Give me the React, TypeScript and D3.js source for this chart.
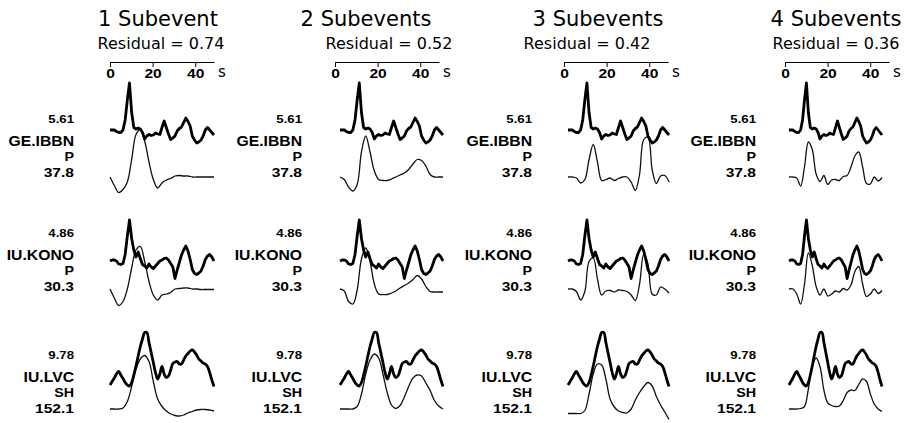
import React, { useRef, useEffect } from 'react'
import * as d3 from 'd3'

// column headers
const subevents = ['1 Subevent', '2 Subevents', '3 Subevents', '4 Subevents']
const residuals = [0.74, 0.52, 0.42, 0.36]
const axisTicks = [0, 20, 40]

// station rows
const amplitudes = ['5.61', '4.86', '9.78']
const stations = ['GE.IBBN', 'IU.KONO', 'IU.LVC']
const phases = ['P', 'P', 'SH']
const azimuths = ['37.8', '30.3', '152.1']

// sample times (s)
const obsTimes = [0, 1, 2, 3, 4, 5, 6, 7, 8, 9, 10, 11, 12, 13, 14, 15, 16, 17, 18, 19, 20, 21, 22, 23, 24, 25, 26, 27, 28, 29, 30, 31, 32, 33, 34, 35, 36, 37, 38, 39, 40, 41, 42, 43, 44, 45, 46, 47, 48]
const synTimes = [0, 2, 4, 6, 8, 10, 12, 14, 16, 18, 20, 22, 24, 26, 28, 30, 32, 34, 36, 38, 40, 42, 44, 46, 48]

// observed waveforms (same in every column)
const obsIBBN = [0, 0, 0, -0.03, -0.05, -0.05, 0, 0.2, 0.6, 0.94, 0.35, 0.05, 0.02, 0.04, 0.02, -0.05, -0.18, -0.12, -0.09, -0.11, -0.1, -0.06, -0.08, -0.09, 0.05, 0.18, 0.05, -0.08, -0.19, -0.16, -0.12, -0.02, 0.03, 0.06, 0.15, 0.24, 0.17, 0.08, -0.12, -0.2, -0.26, -0.24, -0.2, -0.12, 0, 0.05, 0, -0.05, -0.1]
const obsKONO = [0, 0.02, 0.02, 0, -0.06, -0.07, -0.05, 0.13, 0.5, 0.82, 0.45, 0.22, 0.08, 0.18, 0.05, -0.07, -0.1, -0.14, -0.06, -0.12, -0.15, -0.1, -0.05, 0, 0.02, 0.05, 0.06, 0.02, -0.05, -0.12, -0.35, -0.18, -0.03, 0.12, 0.22, 0.3, 0.2, 0.03, -0.17, -0.25, -0.27, -0.24, -0.2, -0.1, 0.03, 0.1, 0.13, 0.08, 0]
const obsLVC = [0, 0.07, 0.14, 0.22, 0.27, 0.2, 0.13, 0.05, 0, -0.02, 0.05, 0.2, 0.38, 0.58, 0.77, 0.92, 1.05, 1.05, 0.85, 0.65, 0.45, 0.25, 0.12, 0.22, 0.37, 0.22, 0.15, 0.18, 0.3, 0.43, 0.46, 0.47, 0.42, 0.42, 0.5, 0.58, 0.63, 0.68, 0.7, 0.66, 0.6, 0.52, 0.48, 0.44, 0.42, 0.37, 0.25, 0.1, -0.03]

// synthetic waveforms, one per subevent model
const synIBBN1 = [0, -0.17, -0.31, -0.25, -0.1, 0.35, 0.85, 0.95, 0.72, 0.3, -0.05, -0.22, -0.12, -0.06, -0.03, 0.02, 0.03, 0.02, 0.02, 0, 0, 0, 0, 0, 0]
const synIBBN2 = [0, -0.05, -0.2, -0.28, -0.15, 0.5, 0.82, 0.5, 0.12, -0.05, -0.07, -0.07, -0.04, 0, 0.04, 0.08, 0.15, 0.26, 0.35, 0.33, 0.22, 0.05, 0, 0, 0]
const synIBBN3 = [0, 0, -0.02, -0.12, -0.05, 0.35, 0.65, 0.3, -0.07, -0.05, -0.02, -0.07, -0.03, 0, 0, -0.1, -0.27, 0.05, 0.75, 0.8, 0.15, -0.13, 0.02, 0.03, -0.1]
const synIBBN4 = [0, 0, -0.02, -0.18, 0.2, 0.7, 0.55, 0.06, -0.09, 0.03, -0.15, -0.06, -0.05, -0.07, 0.01, 0.03, 0.2, 0.42, 0.5, 0.2, -0.13, -0.14, 0, -0.08, -0.01]

const synKONO1 = [0, -0.18, -0.33, -0.25, 0, 0.42, 0.78, 0.85, 0.55, 0.15, -0.12, -0.22, -0.12, -0.1, -0.07, 0, 0.01, 0.02, 0.02, 0, 0, -0.01, -0.01, -0.01, -0.01]
const synKONO2 = [0, -0.04, -0.25, -0.3, -0.02, 0.6, 0.82, 0.55, 0.1, -0.1, -0.11, -0.11, -0.08, -0.04, 0.02, 0.07, 0.12, 0.19, 0.27, 0.2, 0.05, -0.05, -0.06, -0.06, -0.06]
const synKONO3 = [0, 0, -0.05, -0.22, -0.05, 0.55, 0.62, 0.2, -0.12, -0.04, -0.03, -0.06, -0.02, -0.03, -0.05, -0.12, -0.23, 0.1, 0.7, 0.5, -0.1, -0.12, 0.04, 0, -0.08]
const synKONO4 = [0, 0, -0.1, -0.3, 0.1, 0.72, 0.47, 0.05, -0.12, 0, -0.14, -0.1, -0.04, -0.06, 0.01, -0.02, 0.08, 0.35, 0.45, 0.1, -0.15, -0.1, 0, -0.09, -0.03]

const synLVC1 = [0, 0, 0, 0.02, 0.15, 0.45, 0.8, 1.0, 1.07, 0.95, 0.55, 0.2, 0.05, -0.04, -0.1, -0.13, -0.14, -0.12, -0.08, -0.05, -0.02, -0.01, -0.01, -0.02, -0.04]
const synLVC2 = [0, 0, 0, 0, 0.05, 0.3, 0.7, 0.98, 1.1, 1.02, 0.7, 0.33, 0.08, 0.01, 0.07, 0.24, 0.45, 0.62, 0.68, 0.66, 0.52, 0.37, 0.17, 0.06, 0]
const synLVC3 = [-0.09, -0.09, -0.09, -0.09, -0.03, 0.3, 0.7, 0.9, 0.88, 0.6, 0.2, 0.04, -0.04, -0.07, -0.08, 0, 0.18, 0.33, 0.45, 0.53, 0.46, 0.25, 0.08, -0.06, -0.21]
const synLVC4 = [0, 0, 0, 0.01, 0.05, 0.4, 0.85, 1.02, 0.85, 0.38, 0.12, 0.07, 0.05, 0.06, 0.17, 0.33, 0.38, 0.37, 0.49, 0.6, 0.55, 0.3, 0.1, 0, -0.05]

const observed = [obsIBBN, obsKONO, obsLVC]
const synthetic = [
  [synIBBN1, synIBBN2, synIBBN3, synIBBN4],
  [synKONO1, synKONO2, synKONO3, synKONO4],
  [synLVC1, synLVC2, synLVC3, synLVC4],
]

// layout
const width = 909
const height = 423
const colAxisX = [110, 335, 564, 785]
const axisW = 104
const axisMax = 48.8
const axisY = 62
const colTraceX = [110, 340, 568, 789]
const colTraceW = [104, 103, 101, 93]
const titleCx = [158, 366, 598, 836]
const residCx = [161, 389, 587, 836]
const labelRight = [74, 302, 532, 756]
const rowLabelY = [123, 237, 359]
const labelDy = [0, 22.5, 38, 54]
const labelSize = [11, 15, 13, 12.5]
const labelStretch = [1.2, 1.05, 1.1, 1.25]
const obsBase = [130, 261, 385]
const synBase = [177, 289, 409]
const ampPx = 50

const App: React.FC = () => {
  const svgRef = useRef<SVGSVGElement | null>(null)

  useEffect(() => {
    if (!svgRef.current) return
    const svg = d3.select(svgRef.current)
    svg.selectAll('*').remove()

    subevents.forEach((title, c) => {
      // headers
      svg.append('text')
        .attr('x', titleCx[c])
        .attr('y', 26)
        .attr('text-anchor', 'middle')
        .style('font-family', 'DejaVu Sans')
        .style('font-size', '21px')
        .text(title)

      svg.append('text')
        .attr('x', residCx[c])
        .attr('y', 49)
        .attr('text-anchor', 'middle')
        .style('font-family', 'DejaVu Sans')
        .style('font-size', '16px')
        .text(`Residual = ${residuals[c].toFixed(2)}`)

      // time axis
      const xa = d3.scaleLinear().domain([0, axisMax]).range([0, axisW])
      const ag = svg.append('g')
        .attr('transform', `translate(${colAxisX[c]},${axisY})`)
        .call(d3.axisBottom(xa).tickValues(axisTicks).tickSize(5).tickSizeOuter(0).tickPadding(2))
      ag.attr('font-family', 'Liberation Sans').attr('font-size', 12).attr('font-weight', 'bold')
      ag.selectAll('.tick text').attr('transform', 'scale(1.3,1)').attr('fill', '#000')
      ag.selectAll('line, path').attr('stroke', '#000')

      svg.append('text')
        .attr('x', colAxisX[c] + axisW + 4)
        .attr('y', 77)
        .style('font-family', 'DejaVu Sans')
        .style('font-size', '15px')
        .text('s')

      const x = d3.scaleLinear().domain([0, 48]).range([colTraceX[c], colTraceX[c] + colTraceW[c]])

      stations.forEach((st, r) => {
        // station labels
        const lines = [amplitudes[r], st, phases[r], azimuths[r]]
        lines.forEach((txt, i) => {
          svg.append('text')
            .attr('transform', `translate(${labelRight[c]},${rowLabelY[r] + labelDy[i]}) scale(${labelStretch[i]},1)`)
            .attr('text-anchor', 'end')
            .style('font-family', 'Liberation Sans')
            .style('font-weight', 'bold')
            .style('font-size', `${labelSize[i]}px`)
            .text(txt)
        })

        const yObs = d3.scaleLinear().domain([0, 1]).range([obsBase[r], obsBase[r] - ampPx])
        const ySyn = d3.scaleLinear().domain([0, 1]).range([synBase[r], synBase[r] - ampPx])

        const obsLine = d3.line<number>()
          .x((_, i) => x(obsTimes[i]))
          .y(d => yObs(d))
          .curve(r === 2 ? d3.curveCatmullRom.alpha(0.5) : d3.curveLinear)

        const synLine = d3.line<number>()
          .x((_, i) => x(synTimes[i]))
          .y(d => ySyn(d))
          .curve(d3.curveCatmullRom.alpha(0.5))

        svg.append('path')
          .datum(synthetic[r][c])
          .attr('fill', 'none')
          .attr('stroke', '#111')
          .attr('stroke-width', 1.3)
          .attr('stroke-linejoin', 'round')
          .attr('d', synLine)

        svg.append('path')
          .datum(observed[r])
          .attr('fill', 'none')
          .attr('stroke', '#000')
          .attr('stroke-width', 2.8)
          .attr('stroke-linejoin', 'round')
          .attr('d', obsLine)
      })
    })
  }, [])

  return (
    <svg
      ref={svgRef}
      width={width}
      height={height}
      style={{ position: 'absolute', left: 0, top: 0, background: '#fff' }}
    />
  )
}

export default App
